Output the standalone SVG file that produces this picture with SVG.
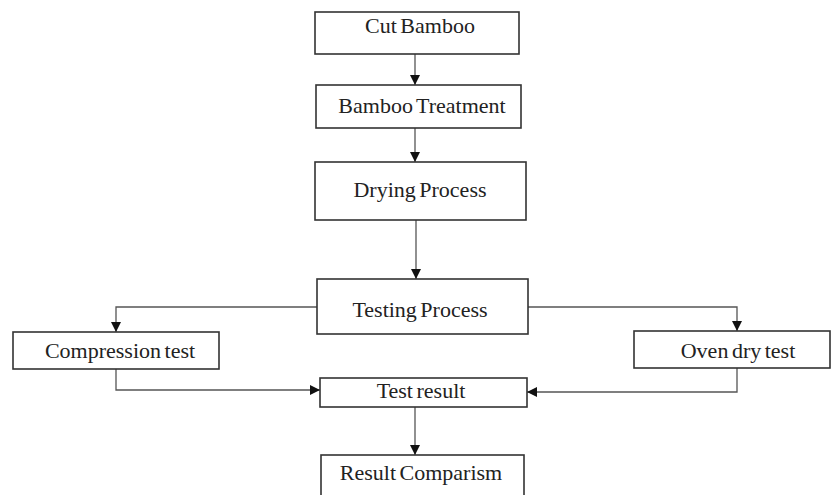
<svg xmlns="http://www.w3.org/2000/svg" width="833" height="495" viewBox="0 0 833 495">
<style>
.box{fill:#fff;stroke:#333;stroke-width:1.6}
.lbl{font-family:"Liberation Serif","Times New Roman",serif;font-size:22px;fill:#222;text-anchor:middle;word-spacing:-2px}
.con{fill:none;stroke:#555;stroke-width:1.3;marker-end:url(#ah)}
</style>
<defs>
<marker id="ah" markerUnits="userSpaceOnUse" markerWidth="12" markerHeight="12" viewBox="0 0 12 12" refX="11" refY="6" orient="auto">
<path d="M1,1 L11,6 L1,11 Z" fill="#111"/>
</marker>
</defs>
<rect width="833" height="495" fill="#fff"/>
<g id="connectors">
<path class="con" d="M415,54 V85"/>
<path class="con" d="M415,128 V162"/>
<path class="con" d="M416,220 V279"/>
<path class="con" d="M317,307 H116 V332"/>
<path class="con" d="M528,307 H737 V331"/>
<path class="con" d="M116,369 V390 H320"/>
<path class="con" d="M737,368 V392 H527"/>
<path class="con" d="M415,407 V455"/>
</g>
<g id="cut-bamboo"><rect class="box" x="315" y="12" width="204" height="42"/><text class="lbl" x="420" y="33">Cut Bamboo</text></g>
<g id="bamboo-treatment"><rect class="box" x="316" y="85" width="205" height="43"/><text class="lbl" x="422" y="113">Bamboo Treatment</text></g>
<g id="drying-process"><rect class="box" x="315" y="162" width="211" height="58"/><text class="lbl" x="420" y="197">Drying Process</text></g>
<g id="testing-process"><rect class="box" x="317" y="279" width="211" height="55"/><text class="lbl" x="420" y="317">Testing Process</text></g>
<g id="compression-test"><rect class="box" x="13" y="332" width="206" height="37"/><text class="lbl" x="120" y="358">Compression test</text></g>
<g id="oven-dry-test"><rect class="box" x="634" y="331" width="196" height="37"/><text class="lbl" x="738" y="358">Oven dry test</text></g>
<g id="test-result"><rect class="box" x="320" y="378" width="207" height="29"/><text class="lbl" x="421" y="398">Test result</text></g>
<g id="result-comparism"><rect class="box" x="321" y="455" width="203" height="50"/><text class="lbl" x="421" y="480">Result Comparism</text></g>
</svg>
